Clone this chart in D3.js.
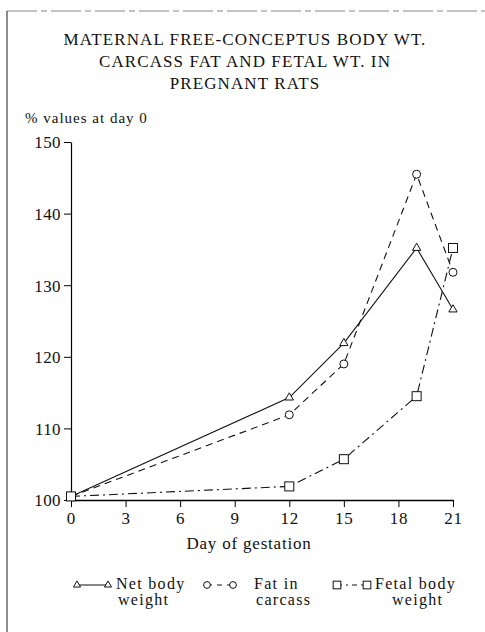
<!DOCTYPE html>
<html><head><meta charset="utf-8">
<script src="https://cdn.jsdelivr.net/npm/d3@7/dist/d3.min.js"></script>
<style>body{margin:0;background:#fff}svg{display:block}text{font-family:"Liberation Serif","DejaVu Serif",serif;fill:#111}</style>
</head><body><svg id="c" width="485" height="632"></svg>
<script>
const titleLines = ["MATERNAL FREE-CONCEPTUS BODY WT.", "CARCASS FAT AND FETAL WT. IN", "PREGNANT RATS"];
const yLabel = "% values at day 0";
const xLabel = "Day of gestation";
const xTicks = [0, 3, 6, 9, 12, 15, 18, 21];
const yTicks = [100, 110, 120, 130, 140, 150];
const days = [0, 12, 15, 19, 21];
const netBody = [100.5, 114.3, 121.9, 135.2, 126.6];
const fatCarcass = [100.5, 111.9, 119.0, 145.5, 131.8];
const fetalDays = [0, 12, 15, 19, 21];
const fetalBody = [100.5, 101.9, 105.7, 114.5, 135.2];
const seriesNames = [["Net body", "weight"], ["Fat in", "carcass"], ["Fetal body", "weight"]];

const svg = d3.select("#c");
const x = d3.scaleLinear().domain([0, 21]).range([71, 453]);
const y = d3.scaleLinear().domain([100, 150]).range([500, 142]);

// frame
svg.append("line").attr("x1", 7).attr("x2", 485).attr("y1", 11).attr("y2", 11).attr("stroke", "#888").attr("stroke-width", 1).attr("stroke-dasharray", "30,4,6,4");
svg.append("line").attr("x1", 7).attr("x2", 7).attr("y1", 11).attr("y2", 632).attr("stroke", "#444").attr("stroke-width", 1.2);

// title
svg.append("g").selectAll("text").data(titleLines).join("text")
  .attr("x", 245).attr("y", (d, i) => 45 + i * 22).attr("text-anchor", "middle")
  .style("font-size", "17px").style("letter-spacing", "1.1px").text(d => d);
svg.append("text").attr("x", 25).attr("y", 123).style("font-size", "15px").style("letter-spacing", "1px").text(yLabel);

// axes
const yAxis = d3.axisLeft(y).tickValues(yTicks).tickSize(7).tickSizeOuter(0);
const gy = svg.append("g").attr("transform", "translate(71,0)").call(yAxis);
gy.attr("font-family", null).attr("font-size", null);
gy.selectAll("text").style("font-size", "17px").style("letter-spacing", "0.4px").attr("x", -10).attr("dy", "0.35em");
gy.select(".domain").attr("stroke-width", 1.2);
const xAxis = d3.axisBottom(x).tickValues(xTicks).tickSize(7).tickSizeOuter(0);
const gx = svg.append("g").attr("transform", "translate(0,500)").call(xAxis);
gx.attr("font-family", null).attr("font-size", null);
gx.selectAll("text").style("font-size", "17px").style("letter-spacing", "0.8px").attr("y", 12).attr("dy", "0.71em");
gx.select(".domain").attr("stroke-width", 1.6);
svg.append("text").attr("x", 249).attr("y", 549).attr("text-anchor", "middle").style("font-size", "17px").style("letter-spacing", "0.8px").text(xLabel);

// lines
const mk = (xs, ys) => xs.map((d, i) => [x(d), y(ys[i])]);
const line = d3.line();
const styles = [
  {pts: mk(days, netBody), dash: null, sym: "tri"},
  {pts: mk(days, fatCarcass), dash: "7,5", sym: "circ"},
  {pts: mk(fetalDays, fetalBody), dash: "9,4,2,4", sym: "sq"}
];
function drawSym(g, sym, cx, cy, k) {
  k = k || 1;
  if (sym === "tri") g.append("path").attr("d", d3.symbol(d3.symbolTriangle, 30 * k * k)()).attr("transform", `translate(${cx},${cy})`).attr("fill", "#fff").attr("stroke", "#111").attr("stroke-width", 1);
  else if (sym === "circ") g.append("circle").attr("cx", cx).attr("cy", cy).attr("r", 4 * k).attr("fill", "#fff").attr("stroke", "#111").attr("stroke-width", 1);
  else g.append("rect").attr("x", cx - 4.5 * k).attr("y", cy - 4.5 * k).attr("width", 9 * k).attr("height", 9 * k).attr("fill", "#fff").attr("stroke", "#111").attr("stroke-width", 1);
}
styles.forEach(s => {
  svg.append("path").attr("d", line(s.pts)).attr("fill", "none").attr("stroke", "#111").attr("stroke-width", 1.1).attr("stroke-dasharray", s.dash);
});
styles.forEach(s => {
  const g = svg.append("g");
  s.pts.forEach(p => drawSym(g, s.sym, p[0], p[1]));
});

// legend
const legX = [[77, 108, 116], [207, 233, 254], [337, 367, 375]];
const legY = 585;
styles.forEach((s, i) => {
  const g = svg.append("g");
  const [a, b, t] = legX[i];
  g.append("line").attr("x1", a).attr("x2", b).attr("y1", legY).attr("y2", legY).attr("stroke", "#111").attr("stroke-width", 1).attr("stroke-dasharray", i === 0 ? null : (i === 1 ? "5,5" : "5,4,2,4"));
  drawSym(g, s.sym, a, legY, 0.85);
  drawSym(g, s.sym, b, legY, 0.85);
  g.append("text").attr("x", t).attr("y", 589).style("font-size", "16px").style("letter-spacing", "1.3px").text(seriesNames[i][0]);
  g.append("text").attr("x", t + (i === 2 ? 17 : 2)).attr("y", 605).style("font-size", "16px").style("letter-spacing", "1.3px").text(seriesNames[i][1]);
});
</script></body></html>
